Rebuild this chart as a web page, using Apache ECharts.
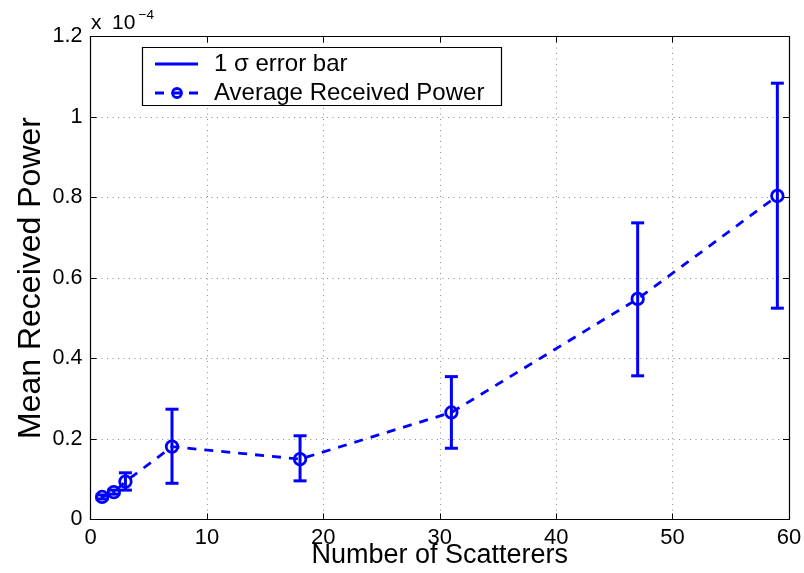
<!DOCTYPE html>
<html>
<head>
<meta charset="utf-8">
<script src="https://cdn.jsdelivr.net/npm/echarts@6/dist/echarts.min.js"></script>
<style>
  html, body { margin: 0; padding: 0; background: #fff; }
  #chart { width: 804px; height: 573px; }
</style>
</head>
<body>
<div id="chart"></div>
<script>
// Number of scatterers in each simulated scene
const scatterers = [1, 2, 3, 7, 18, 31, 47, 59];
// Mean received power, in units of 1e-4
const meanPower = [0.056, 0.068, 0.094, 0.181, 0.150, 0.266, 0.548, 0.804];
// 1-sigma band around the mean (lower / upper ends), units of 1e-4
const sigmaLow  = [0.051, 0.063, 0.073, 0.090, 0.096, 0.177, 0.357, 0.525];
const sigmaHigh = [0.061, 0.073, 0.116, 0.274, 0.208, 0.355, 0.737, 1.084];
// Axis ranges and tick spacing
const xRange = [0, 60], xStep = 10;
const yRange = [0, 1.2], yStep = 0.2;

const BLUE = '#0000ff';
const FONT = '"Liberation Sans", Arial, Helvetica, sans-serif';

const linePoints = scatterers.map((x, i) => [x, meanPower[i]]);
const barPoints = scatterers.map((x, i) => [x, sigmaLow[i], sigmaHigh[i]]);

const chart = echarts.init(document.getElementById('chart'), null, { renderer: 'canvas' });

const gridLine = { show: true, lineStyle: { color: '#8c8c8c', width: 1, type: [1, 4.5] } };
const boxLine = { show: true, onZero: false, lineStyle: { color: '#000', width: 1.2 } };
const inTick = { show: true, inside: true, length: 6, lineStyle: { color: '#000', width: 1 } };

chart.setOption({
  animation: false,
  backgroundColor: '#fff',
  grid: {
    left: 90.5, right: 15, top: 36.5, bottom: 53.5,
    containLabel: false, outerBoundsMode: 'none'
  },
  xAxis: [
    {
      type: 'value', min: xRange[0], max: xRange[1], interval: xStep,
      position: 'bottom',
      axisLine: boxLine, axisTick: inTick,
      splitLine: gridLine,
      axisLabel: { color: '#000', fontFamily: FONT, fontSize: 22, margin: 7 },
      name: 'Number of Scatterers', nameLocation: 'middle', nameGap: 23,
      nameMoveOverlap: false,
      nameTextStyle: { color: '#000', fontFamily: FONT, fontSize: 27, verticalAlign: 'top' }
    },
    {
      type: 'value', min: xRange[0], max: xRange[1], interval: xStep,
      position: 'top',
      axisLine: boxLine, axisTick: inTick,
      splitLine: { show: false }, axisLabel: { show: false }
    }
  ],
  yAxis: [
    {
      type: 'value', min: yRange[0], max: yRange[1], interval: yStep,
      position: 'left',
      axisLine: boxLine, axisTick: inTick,
      splitLine: gridLine,
      axisLabel: { color: '#000', fontFamily: FONT, fontSize: 21.5, margin: 8 },
      name: 'Mean Received Power', nameLocation: 'middle', nameGap: 43,
      nameMoveOverlap: false,
      nameTextStyle: { color: '#000', fontFamily: FONT, fontSize: 32 }
    },
    {
      type: 'value', min: yRange[0], max: yRange[1], interval: yStep,
      position: 'right',
      axisLine: boxLine, axisTick: inTick,
      splitLine: { show: false }, axisLabel: { show: false }
    }
  ],
  series: [
    {
      name: 'Average Received Power',
      type: 'line',
      xAxisIndex: 0, yAxisIndex: 0,
      data: linePoints,
      z: 3,
      symbol: 'circle',
      symbolSize: 11.5,
      showAllSymbol: true,
      lineStyle: { color: BLUE, width: 2.8, type: [9, 8] },
      itemStyle: { color: 'rgba(0,0,0,0)', borderColor: BLUE, borderWidth: 2.8 }
    },
    {
      name: '1 σ error bar',
      type: 'custom',
      xAxisIndex: 0, yAxisIndex: 0,
      data: barPoints,
      encode: { x: 0, y: [1, 2] },
      z: 4,
      renderItem: function (params, api) {
        const x = api.value(0);
        const lo = api.coord([x, api.value(1)]);
        const hi = api.coord([x, api.value(2)]);
        const half = 6.5;
        const style = { stroke: BLUE, lineWidth: 3 };
        return {
          type: 'group',
          children: [
            { type: 'line', shape: { x1: lo[0], y1: lo[1], x2: hi[0], y2: hi[1] }, style: style },
            { type: 'line', shape: { x1: hi[0] - half, y1: hi[1], x2: hi[0] + half, y2: hi[1] }, style: style },
            { type: 'line', shape: { x1: lo[0] - half, y1: lo[1], x2: lo[0] + half, y2: lo[1] }, style: style }
          ]
        };
      }
    }
  ],
  graphic: [
    // scale factor above the y axis: "x 10^-4"
    {
      type: 'text', x: 91, y: 23, z: 10,
      style: { text: 'x', fill: '#000', font: '21px ' + FONT, verticalAlign: 'middle' }
    },
    {
      type: 'text', x: 112, y: 23, z: 10,
      style: { text: '10', fill: '#000', font: '21px ' + FONT, verticalAlign: 'middle' }
    },
    {
      type: 'text', x: 138.5, y: 15, z: 10,
      style: { text: '\u22124', fill: '#000', font: '13.5px ' + FONT, verticalAlign: 'middle' }
    },
    // legend box
    {
      type: 'rect', z: 10,
      shape: { x: 142.5, y: 47.5, width: 359, height: 58 },
      style: { fill: '#fff', stroke: '#000', lineWidth: 1.2 }
    },
    {
      type: 'line', z: 11,
      shape: { x1: 155, y1: 64, x2: 198, y2: 64 },
      style: { stroke: BLUE, lineWidth: 3 }
    },
    {
      type: 'text', z: 11, x: 214, y: 64.5,
      style: { text: '1 \u03c3 error bar', fill: '#000', font: '24px ' + FONT, verticalAlign: 'middle' }
    },
    {
      type: 'line', z: 11,
      shape: { x1: 155, y1: 93, x2: 198, y2: 93 },
      style: { stroke: BLUE, lineWidth: 3, lineDash: [9, 8] }
    },
    {
      type: 'circle', z: 12,
      shape: { cx: 177, cy: 93, r: 4.5 },
      style: { fill: 'none', stroke: BLUE, lineWidth: 2.8 }
    },
    {
      type: 'text', z: 11, x: 214, y: 93.5,
      style: { text: 'Average Received Power', fill: '#000', font: '24px ' + FONT, verticalAlign: 'middle' }
    }
  ]
});
</script>
</body>
</html>
